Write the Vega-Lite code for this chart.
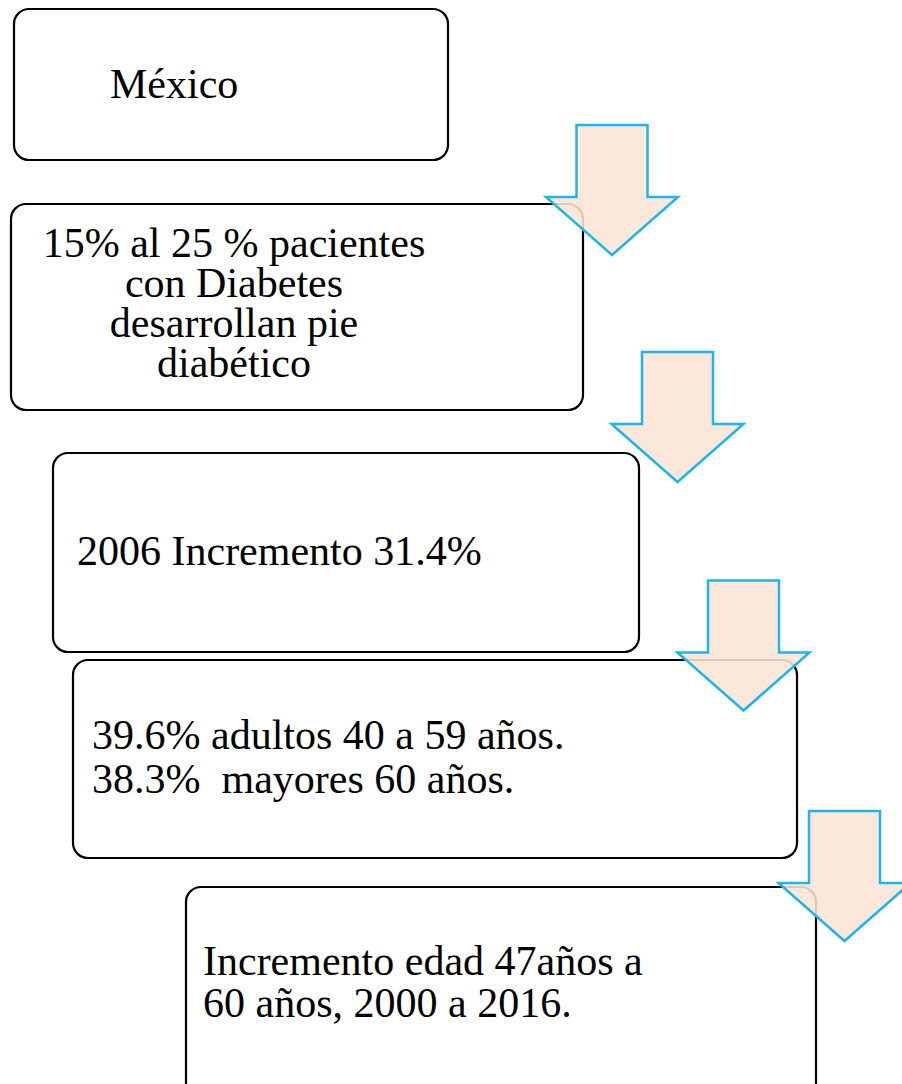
{
  "$schema": "https://vega.github.io/schema/vega-lite/v6.json",
  "width": 902,
  "height": 1084,
  "autosize": {"type": "fit", "contains": "padding"},
  "padding": 0,
  "background": "white",
  "config": {"view": {"stroke": null}},
  "datasets": {
    "boxes": [
      {"box": "1", "x1": 14, "x2": 448, "y1": 9, "y2": 160},
      {"box": "2", "x1": 11, "x2": 583, "y1": 204, "y2": 410},
      {"box": "3", "x1": 53, "x2": 639, "y1": 453, "y2": 652},
      {"box": "4", "x1": 73, "x2": 797, "y1": 660, "y2": 858},
      {"box": "5", "x1": 186, "x2": 816, "y1": 887, "y2": 1100}
    ],
    "arrows": [
      {"arrow": "1", "cx": 612, "cy": 190},
      {"arrow": "2", "cx": 677.5, "cy": 417},
      {"arrow": "3", "cx": 743.5, "cy": 645.5},
      {"arrow": "4", "cx": 844.5, "cy": 876}
    ],
    "labels": [
      {"text": "México", "anchor": "left", "x": 110, "y": 98},
      {"text": "15% al 25 % pacientes", "anchor": "center", "x": 234, "y": 257},
      {"text": "con Diabetes", "anchor": "center", "x": 234, "y": 297},
      {"text": "desarrollan pie", "anchor": "center", "x": 234, "y": 337},
      {"text": "diabético", "anchor": "center", "x": 234, "y": 377},
      {"text": "2006 Incremento 31.4%", "anchor": "left", "x": 77, "y": 565},
      {"text": "39.6% adultos 40 a 59 años.", "anchor": "left", "x": 92, "y": 749},
      {"text": "38.3%\u00a0 mayores 60 años.", "anchor": "left", "x": 92, "y": 793},
      {"text": "Incremento edad 47años a", "anchor": "left", "x": 203, "y": 975},
      {"text": "60 años, 2000 a 2016.", "anchor": "left", "x": 203, "y": 1017}
    ]
  },
  "layer": [
    {
      "data": {"name": "boxes"},
      "mark": {"type": "rect", "fill": "white", "stroke": "black", "strokeWidth": 2.2, "cornerRadius": 15, "clip": true},
      "encoding": {
        "x": {"field": "x1", "type": "quantitative", "scale": {"domain": [0, 902], "nice": false, "zero": false}, "axis": null},
        "x2": {"field": "x2"},
        "y": {"field": "y1", "type": "quantitative", "scale": {"domain": [0, 1084], "nice": false, "zero": false, "reverse": true}, "axis": null},
        "y2": {"field": "y2"}
      }
    },
    {
      "data": {"name": "labels"},
      "transform": [{"filter": "datum.anchor == 'left'"}],
      "mark": {"type": "text", "font": "Liberation Serif", "fontSize": 42, "align": "left", "baseline": "alphabetic", "color": "black", "clip": true},
      "encoding": {
        "x": {"field": "x", "type": "quantitative", "scale": {"domain": [0, 902], "nice": false, "zero": false}, "axis": null},
        "y": {"field": "y", "type": "quantitative", "scale": {"domain": [0, 1084], "nice": false, "zero": false, "reverse": true}, "axis": null},
        "text": {"field": "text"}
      }
    },
    {
      "data": {"name": "labels"},
      "transform": [{"filter": "datum.anchor == 'center'"}],
      "mark": {"type": "text", "font": "Liberation Serif", "fontSize": 42, "align": "center", "baseline": "alphabetic", "color": "black", "clip": true},
      "encoding": {
        "x": {"field": "x", "type": "quantitative", "scale": {"domain": [0, 902], "nice": false, "zero": false}, "axis": null},
        "y": {"field": "y", "type": "quantitative", "scale": {"domain": [0, 1084], "nice": false, "zero": false, "reverse": true}, "axis": null},
        "text": {"field": "text"}
      }
    },
    {
      "data": {"name": "arrows"},
      "mark": {
        "type": "point",
        "filled": true,
        "fill": "#FBE5D6",
        "fillOpacity": 0.88,
        "stroke": "#1FB5EA",
        "strokeWidth": 2.5,
        "strokeOpacity": 1,
        "opacity": 1,
        "shape": "M -0.538 -0.985 L 0.538 -0.985 L 0.538 0.106 L 1 0.106 L 0 0.985 L -1 0.106 L -0.538 0.106 Z",
        "size": 17424,
        "clip": true
      },
      "encoding": {
        "x": {"field": "cx", "type": "quantitative", "scale": {"domain": [0, 902], "nice": false, "zero": false}, "axis": null},
        "y": {"field": "cy", "type": "quantitative", "scale": {"domain": [0, 1084], "nice": false, "zero": false, "reverse": true}, "axis": null}
      }
    }
  ]
}
